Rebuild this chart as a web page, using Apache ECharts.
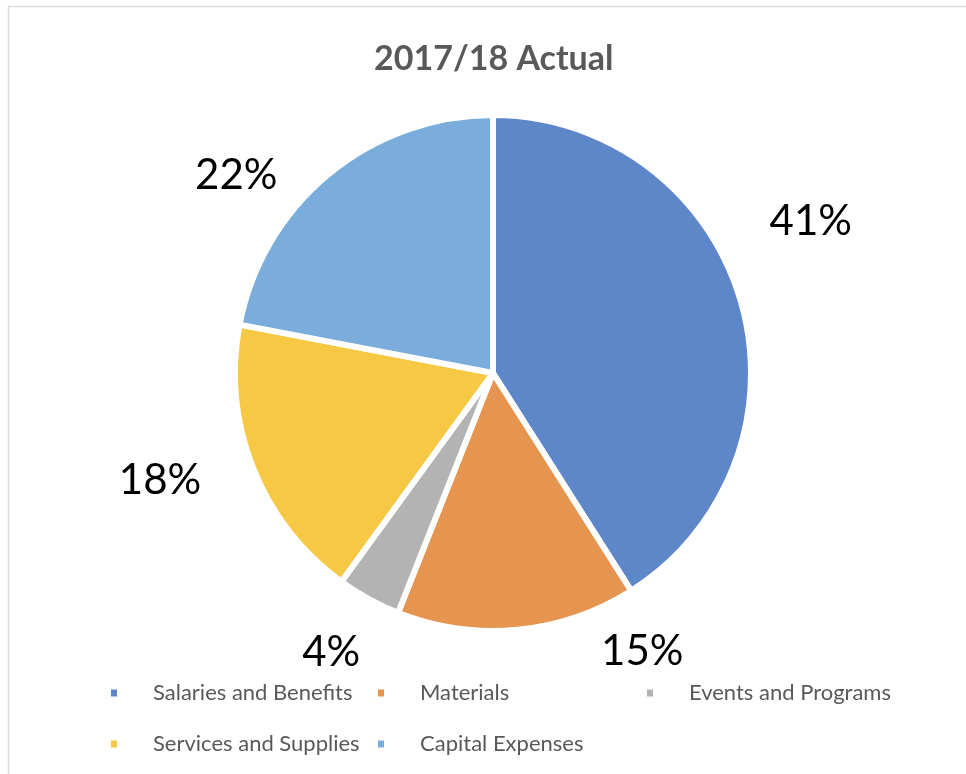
<!DOCTYPE html>
<html>
<head>
<meta charset="utf-8">
<script src="https://cdn.jsdelivr.net/npm/echarts@6/dist/echarts.min.js"></script>
<style>html,body{margin:0;padding:0;background:#fff}#c{width:966px;height:774px}</style>
</head>
<body>
<div id="c"></div>
<script>
const categories = ["Salaries and Benefits", "Materials", "Events and Programs", "Services and Supplies", "Capital Expenses"];
const shares = [41, 15, 4, 18, 22];
const colors = ["#5E87CA", "#E5954F", "#B3B3B3", "#F7C843", "#7AADDB"];
const titleText = "2017/18 Actual";

// label nudges (px) relative to default outside placement
const labelNudgeX = [-5, 76, 11, -19, -27];
const labelNudgeY = [-71, -8, 27, 1, 24];

const chart = echarts.init(document.getElementById('c'));
const legendCommon = {
  orient: 'vertical',
  icon: 'rect',
  itemWidth: 8,
  itemHeight: 9,
  itemGap: 27,
  selectedMode: false,
  textStyle: { fontFamily: 'Lato', fontSize: 22, color: '#595959', lineHeight: 24, padding: [0, 0, 0, 30] }
};
chart.setOption({
  animation: false,
  color: colors,
  title: {
    text: titleText,
    left: 374,
    top: 42,
    padding: 0,
    textStyle: { fontFamily: 'Lato', fontWeight: 'bold', fontSize: 34, color: '#595959' }
  },
  graphic: [{
    type: 'rect', silent: true,
    shape: { x: 8.5, y: 6.5, width: 1000, height: 800 },
    style: { fill: 'none', stroke: '#DCDCDC', lineWidth: 1.5 }
  }],
  legend: [
    Object.assign({ left: 104, top: 676, data: [categories[0], categories[3]] }, legendCommon),
    Object.assign({ left: 371, top: 676, data: [categories[1], categories[4]] }, legendCommon),
    Object.assign({ left: 640, top: 676, data: [categories[2]] }, legendCommon)
  ],
  series: [{
    type: 'pie',
    center: [493, 373],
    radius: [0, 258],
    startAngle: 90,
    clockwise: true,
    avoidLabelOverlap: false,
    itemStyle: { borderColor: '#ffffff', borderWidth: 6 },
    label: {
      show: true,
      position: 'outside',
      formatter: '{c}%',
      fontFamily: 'Lato',
      fontSize: 42,
      color: '#000000'
    },
    labelLine: { show: false, length: 30, length2: 0 },
    labelLayout: function (p) {
      return { dx: labelNudgeX[p.dataIndex], dy: labelNudgeY[p.dataIndex] };
    },
    emphasis: { disabled: true },
    data: categories.map((n, i) => ({ name: n, value: shares[i] }))
  }]
});
</script>
</body>
</html>
